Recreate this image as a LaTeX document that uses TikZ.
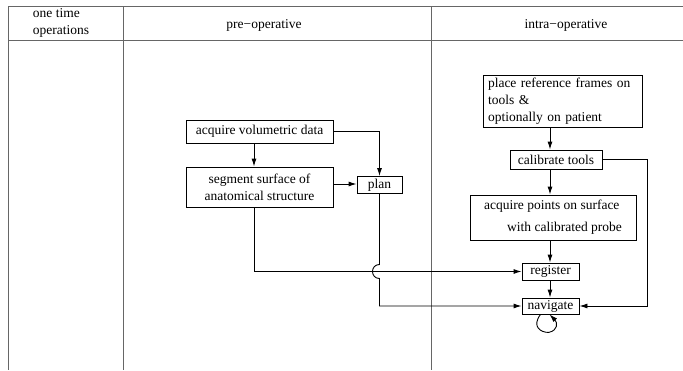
\documentclass[tikz,border=0pt]{standalone}
\usepackage{fontspec}
\setmainfont{Liberation Serif}
\usetikzlibrary{arrows.meta,calc}
\begin{document}
\begin{tikzpicture}[x=1pt,y=-1pt,
  font=\fontsize{13.5}{17}\selectfont,
  grid/.style={draw=black!60,line width=0.9pt},
  box/.style={draw,line width=0.9pt,rectangle,inner sep=0pt,align=center},
  arr/.style={line width=0.9pt,-{Latex[length=8pt,width=5pt]}},
  conn/.style={line width=0.9pt}]
\useasboundingbox (0,0) rectangle (683,370);
% table
\draw[grid] (8,6) -- (683,6);
\draw[grid] (8,40) -- (683,40);
\draw[grid] (8,6) -- (8,370);
\draw[grid] (123,6) -- (123,370);
\draw[grid] (431,6) -- (431,370);
\node[align=left,font=\fontsize{13.5}{16.5}\selectfont] (h1) at (61,23) {one time\\operations};
\node (h2) at (264,25) {pre−operative};
\node (h3) at (566,25) {intra−operative};
% nodes
\node[box,minimum width=147pt,minimum height=23pt] (vol) at (259.5,131.5) {acquire volumetric data};
\node[box,minimum width=147pt,minimum height=40pt] (seg) at (259.5,187) {segment surface of\\anatomical structure};
\node[box,minimum width=45pt,minimum height=17pt] (plan) at (379.5,185) {plan};
\node[box,align=left,text width=149pt,minimum height=52pt,inner xsep=5pt] (place) at (562.5,101) {place reference frames on\\tools \&\\optionally on patient};
\node[box,minimum width=92pt,minimum height=19pt] (cal) at (556,159.5) {calibrate tools};
\node[box,align=left,minimum width=166pt,minimum height=45pt] (acq) at (553,217.5) {acquire points on surface\\[5pt]\hspace*{23pt}with calibrated probe};
\node[box,minimum width=57pt,minimum height=17pt] (reg) at (550.5,271.5) {register};
\node[box,minimum width=57pt,minimum height=16pt] (nav) at (550.5,306) {navigate};
% helper coordinates
\coordinate (xl) at (254,0);
\coordinate (xp) at (379.5,0);
\coordinate (xm) at (550,0);
\coordinate (xr) at (647,0);
% connectors
\draw[arr] (vol.south -| xl) -- (seg.north -| xl);
\draw[arr] (vol.east) -- (vol.east -| xp) -- (plan.north -| xp);
\draw[arr] (seg.east |- 0,184) -- (plan.west |- 0,184);
\draw[arr] (seg.south -| xl) -- (reg.west -| xl) -- (reg.west);
\draw[arr] (plan.south -| xp) -- (379.5,264.5) .. controls (370.2,264.5) and (370.2,278.5) .. (379.5,278.5) -- (nav.west -| xp) -- (nav.west);
\draw[arr] (place.south -| xm) -- (cal.north -| xm);
\draw[arr] (cal.south -| xm) -- (acq.north -| xm);
\draw[arr] (acq.south -| xm) -- (reg.north -| xm);
\draw[arr] (reg.south -| xm) -- (nav.north -| xm);
\draw[arr] (cal.east) -- (cal.east -| xr) -- (nav.east -| xr) -- (nav.east);
\draw[arr] ([xshift=-10pt]nav.south) .. controls +(-9,12) and +(-8,0) .. ([xshift=-2pt,yshift=-18pt]nav.south) .. controls +(10,-2) and +(8,8) .. ([xshift=-1pt]nav.south);
\end{tikzpicture}
\end{document}
